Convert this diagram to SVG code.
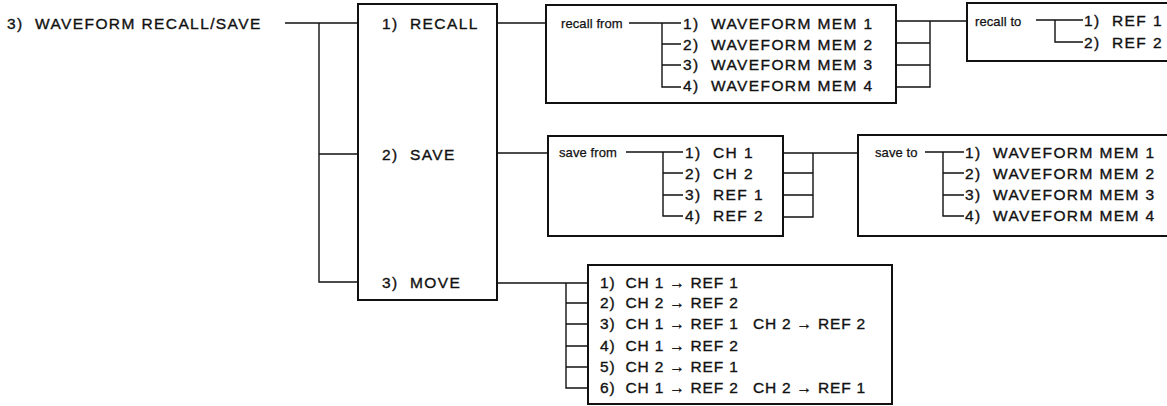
<svg xmlns="http://www.w3.org/2000/svg" width="1167" height="406" viewBox="0 0 1167 406">
<style>
.box{fill:#fff;stroke:#111;stroke-width:2}
.ln{fill:none;stroke:#111;stroke-width:1.4}
.t{font-family:"Liberation Sans",Arial,sans-serif;font-size:15.5px;letter-spacing:1.4px;fill:#111;stroke:#111;stroke-width:0.35}
.s{font-size:13px;letter-spacing:0.1px;stroke-width:0.25}
.m{letter-spacing:0.8px}
</style>
<rect width="1167" height="406" fill="#fff"/>
<g id="connectors">
<path class="ln" d="M285 23H358M319 23V282H358M319 154H358"/>
<path class="ln" d="M497 23H546"/>
<path class="ln" d="M497 153H548"/>
<path class="ln" d="M497 283H588"/>
<path class="ln" d="M896 21H930V87H896M896 43H930M896 65H930M930 21H967"/>
<path class="ln" d="M783 153H813V217H783M783 173H813M783 195H813M813 153H858"/>
<path class="ln" d="M566 283V388H588M566 303H588M566 324H588M566 346H588M566 367H588"/>
</g>
<g id="root">
<text class="t" x="7" y="29">3)&#160; WAVEFORM RECALL/SAVE</text>
</g>
<g id="menu">
<rect class="box" x="358" y="4" width="139" height="296"/>
<text class="t" x="382" y="29">1)&#160; RECALL</text>
<text class="t" x="382" y="160">2)&#160; SAVE</text>
<text class="t" x="382" y="288">3)&#160; MOVE</text>
</g>
<g id="recall-from">
<rect class="box" x="546" y="5" width="350" height="98"/>
<text class="t s" x="561" y="28">recall from</text>
<path class="ln" d="M629 23H681M662 23V87H681M662 44H681M662 65H681"/>
<text class="t" x="683" y="29">1)&#160; WAVEFORM MEM 1</text>
<text class="t" x="683" y="50">2)&#160; WAVEFORM MEM 2</text>
<text class="t" x="683" y="70">3)&#160; WAVEFORM MEM 3</text>
<text class="t" x="683" y="91">4)&#160; WAVEFORM MEM 4</text>
</g>
<g id="recall-to">
<rect class="box" x="967" y="3" width="220" height="58"/>
<text class="t s" x="975" y="26">recall to</text>
<path class="ln" d="M1036 20H1083M1055 20V42H1083"/>
<text class="t" x="1084" y="26">1)&#160; REF 1</text>
<text class="t" x="1084" y="48">2)&#160; REF 2</text>
</g>
<g id="save-from">
<rect class="box" x="548" y="136" width="235" height="100"/>
<text class="t s" x="559" y="157">save from</text>
<path class="ln" d="M626 152H683M663 152V216H683M663 173H683M663 195H683"/>
<text class="t" x="685" y="158">1)&#160; CH 1</text>
<text class="t" x="685" y="179">2)&#160; CH 2</text>
<text class="t" x="685" y="200">3)&#160; REF 1</text>
<text class="t" x="685" y="221">4)&#160; REF 2</text>
</g>
<g id="save-to">
<rect class="box" x="858" y="135" width="330" height="101"/>
<text class="t s" x="875" y="157">save to</text>
<path class="ln" d="M925 152H964M943 152V216H964M943 173H964M943 195H964"/>
<text class="t" x="965" y="158">1)&#160; WAVEFORM MEM 1</text>
<text class="t" x="965" y="179">2)&#160; WAVEFORM MEM 2</text>
<text class="t" x="965" y="200">3)&#160; WAVEFORM MEM 3</text>
<text class="t" x="965" y="221">4)&#160; WAVEFORM MEM 4</text>
</g>
<g id="move">
<rect class="box" x="588" y="265" width="304" height="139"/>
<text class="t m" x="600" y="288">1)&#160; CH 1 → REF 1</text>
<text class="t m" x="600" y="308">2)&#160; CH 2 → REF 2</text>
<text class="t m" x="600" y="329">3)&#160; CH 1 → REF 1</text>
<text class="t m" x="753" y="329">CH 2 → REF 2</text>
<text class="t m" x="600" y="351">4)&#160; CH 1 → REF 2</text>
<text class="t m" x="600" y="372">5)&#160; CH 2 → REF 1</text>
<text class="t m" x="600" y="393">6)&#160; CH 1 → REF 2</text>
<text class="t m" x="753" y="393">CH 2 → REF 1</text>
</g>
</svg>
